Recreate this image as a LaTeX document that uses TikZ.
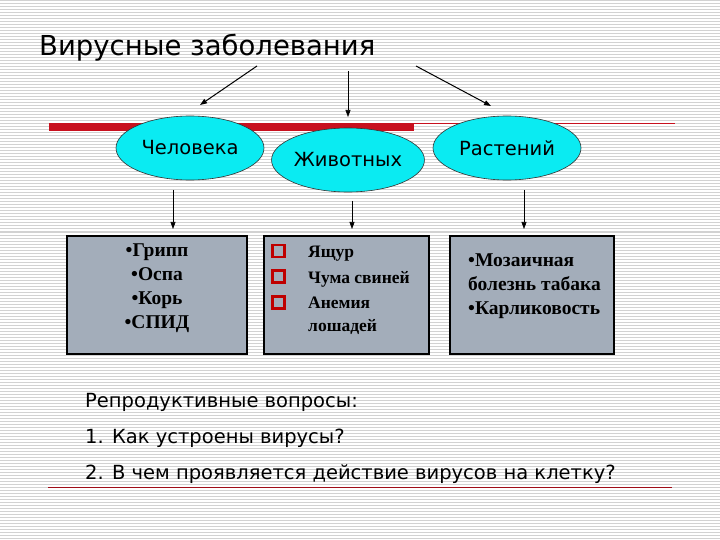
\documentclass[tikz,border=0pt]{standalone}
\usepackage{fontspec}
\setmainfont{Liberation Serif}
\newfontfamily\tah{DejaVu Sans}
\usetikzlibrary{shapes.geometric,arrows.meta}
\definecolor{cyanfill}{RGB}{10,235,242}
\definecolor{boxfill}{RGB}{163,173,186}
\definecolor{redbar}{RGB}{200,16,30}
\definecolor{stripec}{RGB}{210,210,210}
\tikzset{
  stripe/.style={draw=stripec,line width=1pt},
  ell/.style={ellipse,draw=black!80,line width=0.6pt,fill=cyanfill,minimum width=148pt,minimum height=64pt,inner sep=0pt,font=\tah\fontsize{19.5}{22}\selectfont},
  infobox/.style={rectangle,draw=black,line width=1.3pt,fill=boxfill,inner sep=0pt},
  arr/.style={-{Triangle[length=7pt,width=5pt]},line width=1pt},
  thinarr/.style={-{Triangle[length=7pt,width=5pt]},line width=0.6pt},
  lineA/.style={font=\bfseries\fontsize{19.5}{22}\selectfont,inner sep=0pt,anchor=base},
  lineB/.style={font=\bfseries\fontsize{17.5}{20}\selectfont,inner sep=0pt,anchor=base west},
  lineC/.style={font=\bfseries\fontsize{19.5}{22}\selectfont,inner sep=0pt,anchor=base west},
  qtext/.style={anchor=west,font=\tah\fontsize{19.5}{22}\selectfont,inner sep=0pt},
  sq/.style={rectangle,draw=red!75!black,line width=2.2pt,fill=boxfill,minimum size=12pt,inner sep=0pt}
}
\begin{document}
\begin{tikzpicture}[x=1pt,y=-1pt]
\useasboundingbox (0,0) rectangle (720,540);
\fill[white] (0,0) rectangle (720,540);
\foreach \i in {0,...,179} \draw[stripe] (0,\i*3+1) -- (720,\i*3+1);

% title
\node[anchor=west,inner sep=0pt,font=\tah\fontsize{27.5}{30}\selectfont] (title) at (39,48) {Вирусные заболевания};

% red bars
\fill[redbar] (49,123) rectangle (414,131);
\draw[redbar,line width=1pt] (414,124) -- (675,124);
\draw[redbar!80!black,line width=1pt] (48,487) -- (672,487);

% ellipses
\node[ell] (hum) at (190,148) {Человека};
\node[ell] (ani) at (348,160) {Животных};
\node[ell] (pla) at (507,148) {Растений};

% arrows from title
\coordinate (t1) at (257,66);
\coordinate (t2) at (348,71);
\coordinate (t3) at (416,66);
\coordinate (e1) at (200,105);
\coordinate (e2) at (348,117);
\coordinate (e3) at (491,106);
\draw[arr] (t1) -- (e1);
\draw[thinarr] (t2) -- (e2);
\draw[arr] (t3) -- (e3);

% boxes
\node[infobox,minimum width=180pt,minimum height=118pt] (b1) at (157,295) {};
\node[infobox,minimum width=165pt,minimum height=118pt] (b2) at (346.5,295) {};
\node[infobox,minimum width=164pt,minimum height=118pt] (b3) at (532,295) {};

% arrows ellipse -> box
\coordinate (s1) at (173,190);
\coordinate (s2) at (352,201);
\coordinate (s3) at (524,190);
\coordinate (d1) at (173,229);
\coordinate (d2) at (352,229);
\coordinate (d3) at (524,229);
\draw[thinarr] (s1) -- (d1);
\draw[thinarr] (s2) -- (d2);
\draw[thinarr] (s3) -- (d3);

% box 1 text
\node[lineA] (a1) at (157,256) {•Грипп};
\node[lineA] (a2) at (157,280) {•Оспа};
\node[lineA] (a3) at (157,304) {•Корь};
\node[lineA] (a4) at (157,328) {•СПИД};

% box 2 text
\node[sq] (q1) at (278.5,251) {};
\node[sq] (q2) at (278.5,276.5) {};
\node[sq] (q3) at (278.5,302.5) {};
\node[lineB] (c1) at (308,258) {Ящур};
\node[lineB] (c2) at (308,283) {Чума свиней};
\node[lineB] (c3) at (308,308) {Анемия};
\node[lineB] (c4) at (308,331) {лошадей};

% box 3 text
\node[lineC] (m1) at (468,266) {•Мозаичная};
\node[lineC] (m2) at (468,290) {болезнь табака};
\node[lineC] (m3) at (468,314) {•Карликовость};

% questions
\node[qtext] (q1t) at (85,402) {Репродуктивные вопросы:};
\node[qtext] (q2t) at (85,438) {1. Как устроены вирусы?};
\node[qtext] (q3t) at (85,474) {2. В чем проявляется действие вирусов на клетку?};
\end{tikzpicture}
\end{document}
